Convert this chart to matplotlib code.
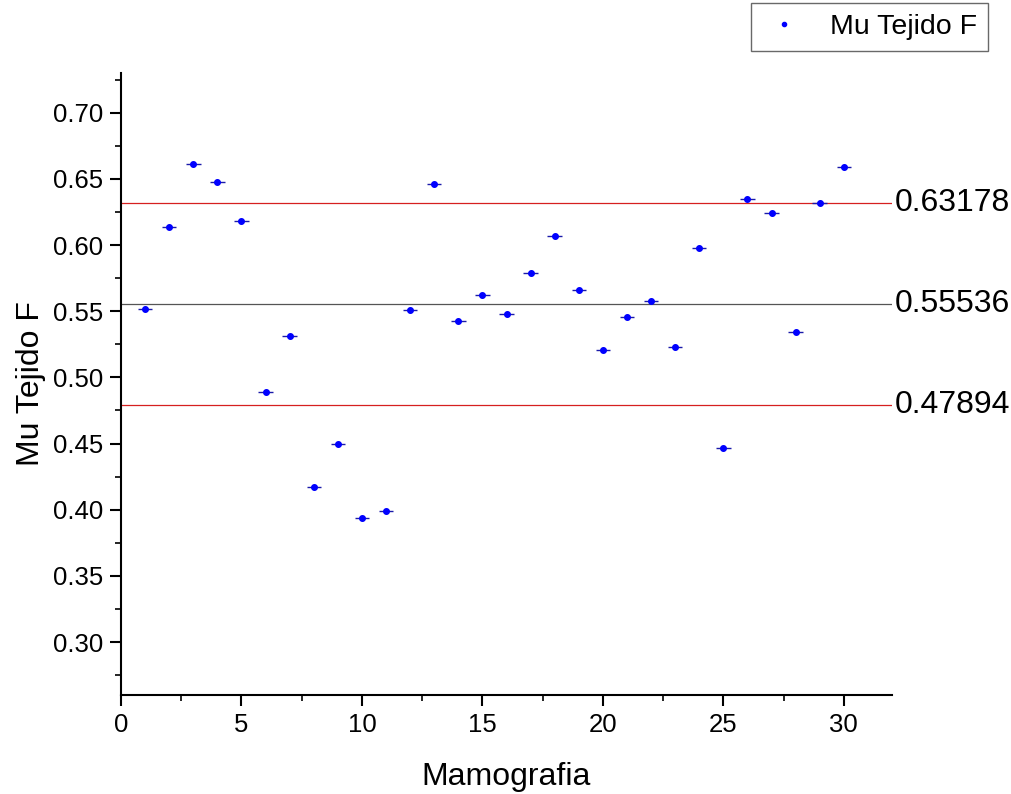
import matplotlib
matplotlib.use("Agg")
import matplotlib.pyplot as plt
from matplotlib.ticker import MultipleLocator, FormatStrFormatter
from matplotlib.lines import Line2D

plt.rcParams['font.family'] = ['Liberation Sans', 'DejaVu Sans']

mamografia = list(range(1, 31))
mu_tejido_f = [0.552, 0.614, 0.661, 0.648, 0.618, 0.489, 0.531, 0.417, 0.4495, 0.3934,
               0.3987, 0.551, 0.646, 0.543, 0.562, 0.548, 0.579, 0.6066, 0.5657, 0.521,
               0.546, 0.558, 0.523, 0.598, 0.4465, 0.635, 0.624, 0.5345, 0.632, 0.659]
x_err = 0.3
y_err = 0.002
ref_lines = [0.63178, 0.55536, 0.47894]
ref_labels = ["0.63178", "0.55536", "0.47894"]
ref_colors = ["#d62020", "#555555", "#d62020"]

fig = plt.figure(figsize=(10.12, 7.94), dpi=100)
ax = fig.add_axes([0.1196, 0.1247, 0.7618, 0.7833])

for y, lab, c in zip(ref_lines, ref_labels, ref_colors):
    ax.axhline(y, color=c, lw=0.9, zorder=1)
    ax.text(1.003, y, lab, transform=ax.get_yaxis_transform(), va='center', ha='left',
            fontsize=23, clip_on=False)

ax.errorbar(mamografia, mu_tejido_f, xerr=x_err, yerr=y_err, fmt='o', color='#0000ff',
            ecolor='#1a1aaa', elinewidth=1.0, markersize=4, capsize=0, zorder=3)

ax.set_xlim(0, 32)
ax.set_ylim(0.26, 0.73)
ax.xaxis.set_major_locator(MultipleLocator(5))
ax.xaxis.set_minor_locator(MultipleLocator(2.5))
ax.yaxis.set_major_locator(MultipleLocator(0.05))
ax.yaxis.set_minor_locator(MultipleLocator(0.025))
ax.yaxis.set_major_formatter(FormatStrFormatter('%.2f'))
for s in ['top', 'right']:
    ax.spines[s].set_visible(False)
for s in ['left', 'bottom']:
    ax.spines[s].set_linewidth(1.5)
ax.tick_params(which='major', direction='out', length=8, width=1.5, labelsize=18.5, pad=5)
ax.tick_params(which='minor', direction='out', length=4, width=1.2)
ax.set_xlabel('Mamografia', fontsize=23, labelpad=18)
ax.set_ylabel('Mu Tejido F', fontsize=23, labelpad=5)

handle = Line2D([], [], marker='o', linestyle='none', color='#0000ff', markersize=3)
leg = fig.legend(handles=[handle], labels=['Mu Tejido F'], loc='upper right',
                 bbox_to_anchor=(0.976, 0.996), fontsize=20.5, frameon=True, fancybox=False,
                 edgecolor='#444444', handlelength=1.6, handletextpad=0.8, borderpad=0.38,
                 borderaxespad=0)
leg.get_frame().set_linewidth(1.0)

fig.savefig('out.png', dpi=100)
